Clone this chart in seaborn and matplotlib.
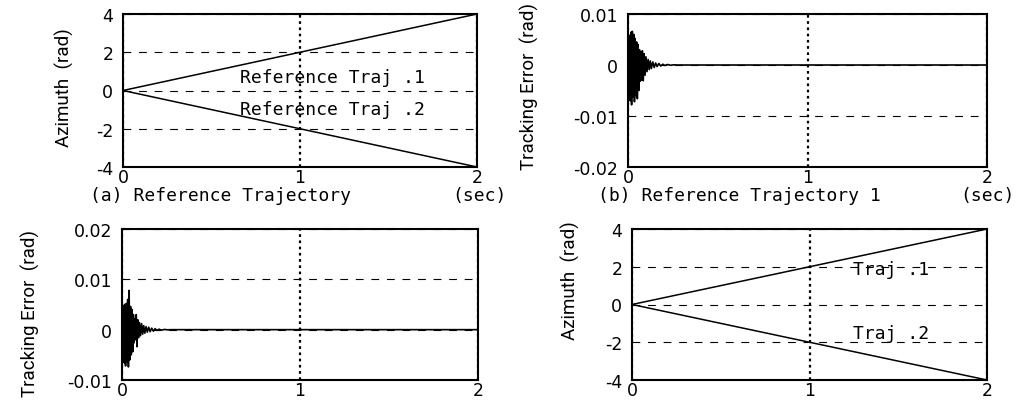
import matplotlib
matplotlib.use("Agg")
import matplotlib.pyplot as plt
import seaborn as sns
import pandas as pd

# ---------------- data ----------------
traj_t = [0.0, 1.0, 2.0]
traj1 = [0.0, 2.0, 4.0]
traj2 = [0.0, -2.0, -4.0]

t_err1 = [0.000, 0.004, 0.008, 0.012, 0.016, 0.020, 0.024, 0.028, 0.032, 0.036,
          0.040, 0.044, 0.048, 0.052, 0.056, 0.060, 0.064, 0.068, 0.072, 0.076,
          0.080, 0.085, 0.090, 0.095, 0.100, 0.106, 0.112, 0.118, 0.124, 0.130,
          0.138, 0.146, 0.154, 0.162, 0.172, 0.182, 0.194, 0.206, 0.220, 0.236,
          0.254, 0.275, 0.300, 2.0]
err1 = [0.0, -0.0040, 0.0058, -0.0070, 0.0064, -0.0078, 0.0066, -0.0062, 0.0060, -0.0072,
        0.0052, -0.0060, 0.0045, -0.0066, 0.0040, -0.0050, 0.0030, -0.0032, 0.0026, -0.0030,
        0.0028, -0.0031, 0.0022, -0.0020, 0.0016, -0.0013, 0.0011, -0.0009, 0.0008, -0.0007,
        0.0006, -0.0005, 0.0004, -0.0003, 0.0003, -0.0002, 0.00015, -0.0001, 0.0001, -0.00005,
        0.00003, 0.0, 0.0, 0.0]

t_err2 = [0.000, 0.004, 0.008, 0.012, 0.016, 0.020, 0.024, 0.028, 0.032, 0.036,
          0.040, 0.044, 0.048, 0.052, 0.056, 0.060, 0.064, 0.068, 0.072, 0.076,
          0.080, 0.084, 0.088, 0.093, 0.098, 0.104, 0.110, 0.116, 0.122, 0.128,
          0.135, 0.142, 0.150, 0.158, 0.167, 0.176, 0.186, 0.196, 0.208, 0.222,
          0.238, 0.255, 0.275, 2.0]
err2 = [0.0, -0.0050, 0.0048, -0.0066, 0.0050, -0.0072, 0.0052, -0.0064, 0.0060, -0.0074,
        0.0078, -0.0060, 0.0046, -0.0050, 0.0040, -0.0044, 0.0030, -0.0026, 0.0022, -0.0020,
        0.0030, -0.0034, 0.0020, -0.0016, 0.0014, -0.0012, 0.0012, -0.0009, 0.0008, -0.0007,
        0.0006, -0.0005, 0.0005, -0.0004, 0.0003, -0.0003, 0.0002, -0.00015, 0.0001, -0.0001,
        0.00005, -0.00003, 0.0, 0.0]

x_ticks = [0, 1, 2]
x_ticklabels = ["0", "1", "2"]
az_ticks = [-4, -2, 0, 2, 4]
az_ticklabels = ["-4", "-2", "0", "2", "4"]
err1_ticks = [-0.02, -0.01, 0.0, 0.01]
err1_ticklabels = ["-0.02", "-0.01", "0", "0.01"]
err2_ticks = [-0.01, 0.0, 0.01, 0.02]
err2_ticklabels = ["-0.01", "0", "0.01", "0.02"]

# ---------------- style ----------------
sns.set_theme(style="white")
plt.rcParams['font.family'] = ['DejaVu Sans']
plt.rcParams['axes.unicode_minus'] = False
plt.rcParams['text.color'] = 'black'

W, H = 1030, 402
fig = plt.figure(figsize=(W / 100, H / 100), dpi=100)


def box(l, t, r, b):
    return [l / W, 1 - b / H, (r - l) / W, (b - t) / H]


ax_tl = fig.add_axes(box(123, 15, 477, 168))
ax_tr = fig.add_axes(box(628, 15, 987, 168))
ax_bl = fig.add_axes(box(122, 230, 478, 381))
ax_br = fig.add_axes(box(632, 230, 987, 381))

tick_font = dict(family=['DejaVu Sans'], size=12.5)
wide_font = ['DejaVu Sans Mono', 'DejaVu Sans']


def style(ax, yticks, ylabels, ylim):
    ax.set_xlim(0, 2)
    ax.set_ylim(*ylim)
    ax.set_xticks(x_ticks)
    ax.set_xticklabels(x_ticklabels, fontdict=tick_font)
    ax.set_yticks(yticks)
    ax.set_yticklabels(ylabels, fontdict=tick_font)
    ax.tick_params(axis='both', direction='in', length=0, colors='black')
    ax.tick_params(axis='x', pad=1)
    ax.tick_params(axis='y', pad=7)
    ax.set_axisbelow(True)
    ax.xaxis.grid(True, linestyle=(0, (1.2, 1.6)), color='black', linewidth=1.6)
    ax.yaxis.grid(True, linestyle=(0, (7, 7)), color='black', linewidth=0.8)
    for s in ax.spines.values():
        s.set_color('black')
        s.set_linewidth(1.5)
    ax.set_xlabel("")
    ax.set_ylabel("")


# top-left: reference trajectories
df_tl = pd.DataFrame({"t": traj_t + traj_t, "y": traj1 + traj2,
                      "s": ["1"] * 3 + ["2"] * 3})
sns.lineplot(data=df_tl, x="t", y="y", units="s", estimator=None, ax=ax_tl,
             color="black", linewidth=1.1)
style(ax_tl, az_ticks, az_ticklabels, (-4, 4))
ax_tl.text(0.66, 0.7, "Reference Traj .1", fontsize=13, family=wide_font,
           va="center", ha="left")
ax_tl.text(0.66, -0.97, "Reference Traj .2", fontsize=13, family=wide_font,
           va="center", ha="left")

# top-right: tracking error 1
sns.lineplot(x=t_err1, y=err1, estimator=None, ax=ax_tr, color="black", linewidth=1.2)
style(ax_tr, err1_ticks, err1_ticklabels, (-0.02, 0.01))

# bottom-left: tracking error 2
sns.lineplot(x=t_err2, y=err2, estimator=None, ax=ax_bl, color="black", linewidth=1.2)
style(ax_bl, err2_ticks, err2_ticklabels, (-0.01, 0.02))

# bottom-right: trajectories
df_br = pd.DataFrame({"t": traj_t + traj_t, "y": traj1 + traj2,
                      "s": ["1"] * 3 + ["2"] * 3})
sns.lineplot(data=df_br, x="t", y="y", units="s", estimator=None, ax=ax_br,
             color="black", linewidth=1.1)
style(ax_br, az_ticks, az_ticklabels, (-4, 4))
ax_br.text(1.245, 1.9, "Traj .1", fontsize=13, family=wide_font, va="center", ha="left")
ax_br.text(1.245, -1.5, "Traj .2", fontsize=13, family=wide_font, va="center", ha="left")

# x captions
cap_y = 1 - 196 / H
fig.text(90 / W, cap_y, "(a) Reference Trajectory", fontsize=13, family=wide_font,
         ha="left", va="center")
fig.text(507 / W, cap_y, "(sec)", fontsize=13, family=wide_font, ha="right", va="center")
fig.text(598 / W, cap_y, "(b) Reference Trajectory 1", fontsize=13, family=wide_font,
         ha="left", va="center")
fig.text(1015 / W, cap_y, "(sec)", fontsize=13, family=wide_font, ha="right", va="center")

# y labels (narrower font)
lab = dict(rotation=90, fontsize=13.5, family=['Roboto', 'DejaVu Sans'],
           ha="center", va="center")
fig.text(64 / W, 1 - 88 / H, "Azimuth  (rad)", **lab)
fig.text(529 / W, 1 - 87 / H, "Tracking Error  (rad)", **lab)
fig.text(30 / W, 1 - 314 / H, "Tracking Error  (rad)", **lab)
fig.text(570 / W, 1 - 281 / H, "Azimuth  (rad)", **lab)

fig.savefig("out.png", dpi=100)
